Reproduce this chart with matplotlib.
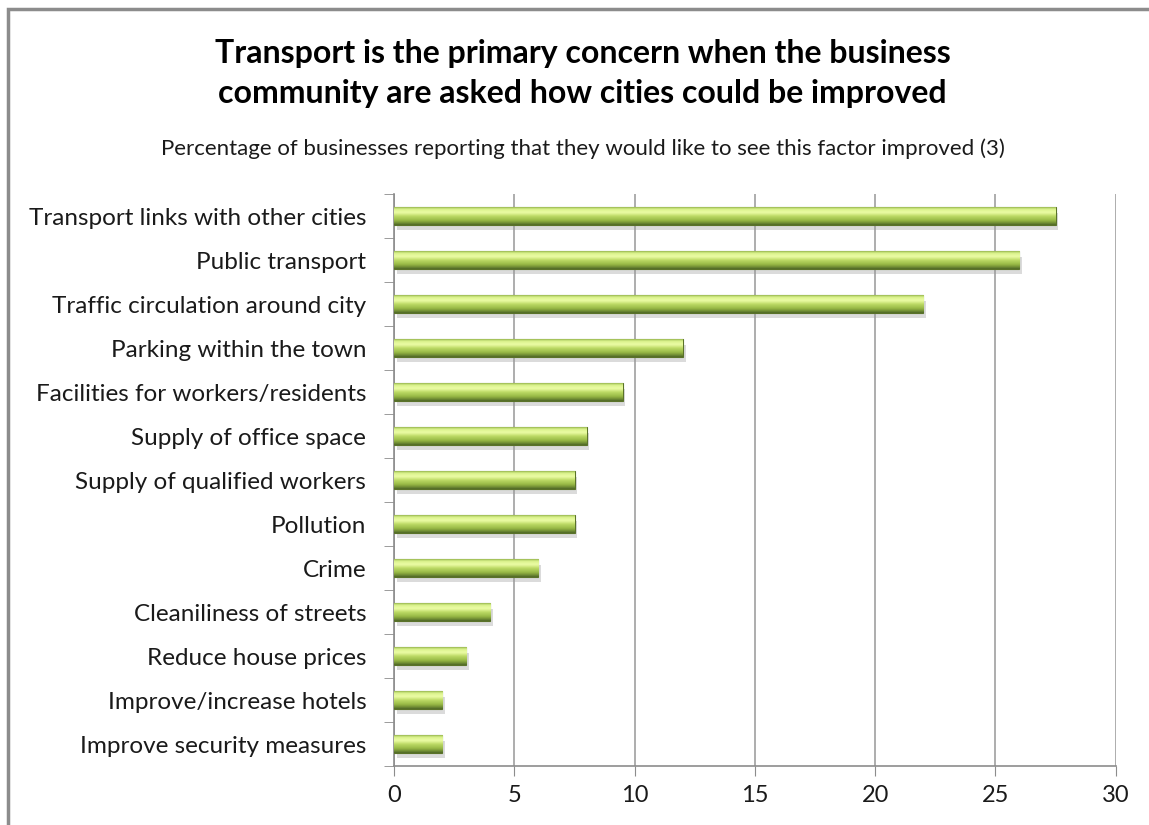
import matplotlib.pyplot as plt
import matplotlib.patheffects as pe
from matplotlib.colors import LinearSegmentedColormap
from matplotlib.patches import Rectangle
import numpy as np

plt.rcParams['font.family'] = ['Lato', 'DejaVu Sans']

# data, top to bottom as in the chart
factors = ['Transport links with other cities', 'Public transport',
           'Traffic circulation around city', 'Parking within the town',
           'Facilities for workers/residents', 'Supply of office space',
           'Supply of qualified workers', 'Pollution', 'Crime',
           'Cleaniliness of streets', 'Reduce house prices',
           'Improve/increase hotels', 'Improve security measures']
percent = [27.5, 26, 22, 12, 9.5, 8, 7.5, 7.5, 6, 4, 3, 2, 2]
xticks = [0, 5, 10, 15, 20, 25, 30]

title = ('Transport is the primary concern when the business\n'
         'community are asked how cities could be improved')
subtitle = 'Percentage of businesses reporting that they would like to see this factor improved (3)'

fig = plt.figure(figsize=(11.49, 8.25), dpi=100)
ax = fig.add_axes([0.343, 0.0715, 0.628, 0.6933])

# bevelled green look: vertical gradient clipped to each bar
green = LinearSegmentedColormap.from_list('bevel', [
    (0.00, '#93b24c'), (0.10, '#d9f28a'), (0.30, '#ecfca6'),
    (0.50, '#bddb66'), (0.75, '#97b845'), (0.90, '#6f8c34'),
    (1.00, '#4e6526')])
grad = np.linspace(0, 1, 64).reshape(-1, 1)

y = np.arange(len(factors))
bars = ax.barh(y, percent, height=0.4, color='#9bbb59', edgecolor='#5a7229',
               linewidth=0.8, zorder=3,
               path_effects=[pe.SimplePatchShadow(offset=(2, -4), shadow_rgbFace='#999999', alpha=0.35),
                             pe.Normal()])
for b in bars:
    x0, y0 = b.get_x(), b.get_y()
    x1, y1 = x0 + b.get_width(), y0 + b.get_height()
    im = ax.imshow(grad, cmap=green, extent=(x0, x1, y1, y0), aspect='auto',
                   interpolation='bicubic', zorder=3.5)
    im.set_clip_path(b)

ax.set_xlim(0, 30)
ax.set_ylim(len(factors) - 0.5, -0.5)
ax.set_xticks(xticks)
ax.set_yticks(y)
ax.set_yticklabels(factors)
ax.set_yticks(np.arange(len(factors) + 1) - 0.5, minor=True)
ax.tick_params(axis='y', which='major', length=0, labelsize=17.5, pad=20, colors='#1a1a1a')
ax.tick_params(axis='y', which='minor', length=7, color='#8c8c8c', direction='out')
ax.tick_params(axis='x', length=7, color='#8c8c8c', labelsize=17, pad=7, colors='#1a1a1a')

ax.grid(axis='x', color='#a0a0a0', linewidth=1.2, zorder=0)
ax.set_axisbelow(True)
for s in ['top', 'right']:
    ax.spines[s].set_visible(False)
for s in ['left', 'bottom']:
    ax.spines[s].set_color('#8c8c8c')
    ax.spines[s].set_linewidth(1.2)

fig.text(0.507, 0.911, title, ha='center', va='center', fontsize=23,
         fontweight='bold', linespacing=1.45)
fig.text(0.507, 0.82, subtitle, ha='center', va='center', fontsize=16, color='#1a1a1a')

# chart frame (only left and top show in the crop)
fig.patches.append(Rectangle((8 / 1149, -0.05), 2.0, 1 - 9 / 825 + 0.05,
                             transform=fig.transFigure, fill=False,
                             edgecolor='#8c8c8c', linewidth=2.5))

fig.savefig('out.png', dpi=100)
